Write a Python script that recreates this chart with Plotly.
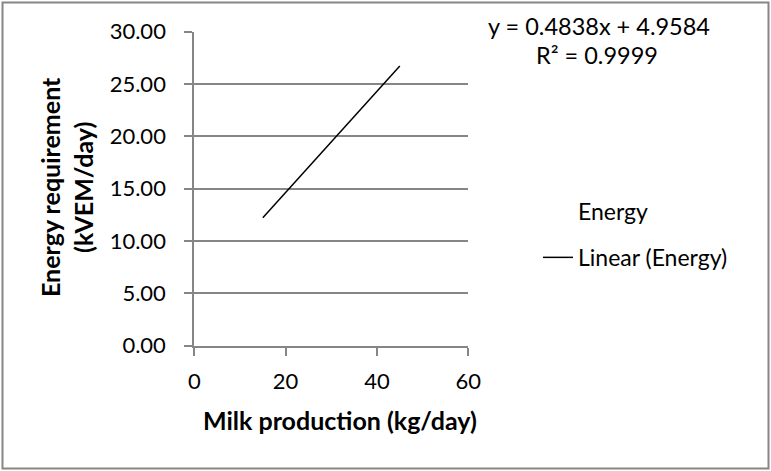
import plotly.graph_objects as go

# Data
milk_production = [15, 45]          # kg/day, span of the trend line
energy_trend = [12.22, 26.73]       # kVEM/day at the ends of the trend line
slope = 0.4838
intercept = 4.9584
r_squared = 0.9999
x_ticks = [0, 20, 40, 60]
y_ticks = [0, 5, 10, 15, 20, 25, 30]

FONT = "Lato"
GRAY = "#868686"
W, H = 771, 471

fig = go.Figure()
# "Energy" series: no visible marks in the reference (no marker, no line)
fig.add_trace(go.Scatter(
    x=milk_production, y=energy_trend, name="Energy", mode="lines",
    line=dict(width=0, color="rgba(0,0,0,0)"), showlegend=True,
    legendgroup="a", hoverinfo="skip",
))
fig.add_trace(go.Scatter(
    x=milk_production, y=energy_trend, name="Linear (Energy)", mode="lines",
    line=dict(color="black", width=1.5), legendgroup="b",
))

x0, x1 = 194.3, 468.3
y_top, y_bot = 31.7, 345.7


def ann(text, x, y, size, bold=False, angle=0):
    font = dict(size=size, family=FONT, color="black")
    if bold:
        font["weight"] = "bold"
    return dict(text=text, xref="paper", yref="paper", x=x / W, y=(H - y) / H,
                xanchor="center", yanchor="middle", showarrow=False,
                textangle=angle, font=font)


fig.update_layout(
    width=W, height=H,
    margin=dict(l=0, r=0, t=0, b=0),
    paper_bgcolor="white", plot_bgcolor="white",
    font=dict(family=FONT, size=22, color="black"),
    xaxis=dict(
        domain=[x0 / W, x1 / W], range=[0, 60], tickvals=x_ticks,
        showgrid=False, zeroline=False, showline=True, linecolor=GRAY, linewidth=2,
        ticks="outside", ticklen=8, tickcolor=GRAY, tickwidth=2,
        ticklabelstandoff=7, automargin=False,
    ),
    yaxis=dict(
        domain=[(H - y_bot) / H, (H - y_top) / H], range=[0, 30], tickvals=y_ticks,
        tickformat=".2f",
        showgrid=True, gridcolor=GRAY, gridwidth=2, zeroline=False,
        showline=True, linecolor=GRAY, linewidth=2,
        ticks="outside", ticklen=8, tickcolor=GRAY, tickwidth=2,
        ticklabelstandoff=14, automargin=False,
    ),
    legend=dict(
        x=538 / W, y=(H - 190) / H, xanchor="left", yanchor="top",
        bgcolor="rgba(0,0,0,0)", font=dict(size=23), tracegroupgap=13,
        itemwidth=30,
    ),
    shapes=[dict(type="rect", xref="paper", yref="paper",
                 x0=2.5 / W, x1=768.5 / W, y0=(H - 468.5) / H, y1=(H - 2.5) / H,
                 line=dict(color=GRAY, width=2), fillcolor="rgba(0,0,0,0)")],
    annotations=[
        ann("Milk production (kg/day)", 340, 420, 25, bold=True),
        ann("Energy requirement<br>(kVEM/day)", 66, 187, 25, bold=True, angle=-90),
        ann(f"y = {slope}x + {intercept}", 599, 26, 23.5),
        ann(f"R² = {r_squared}", 597, 55, 23.5),
    ],
)

fig.write_html("out.html")
